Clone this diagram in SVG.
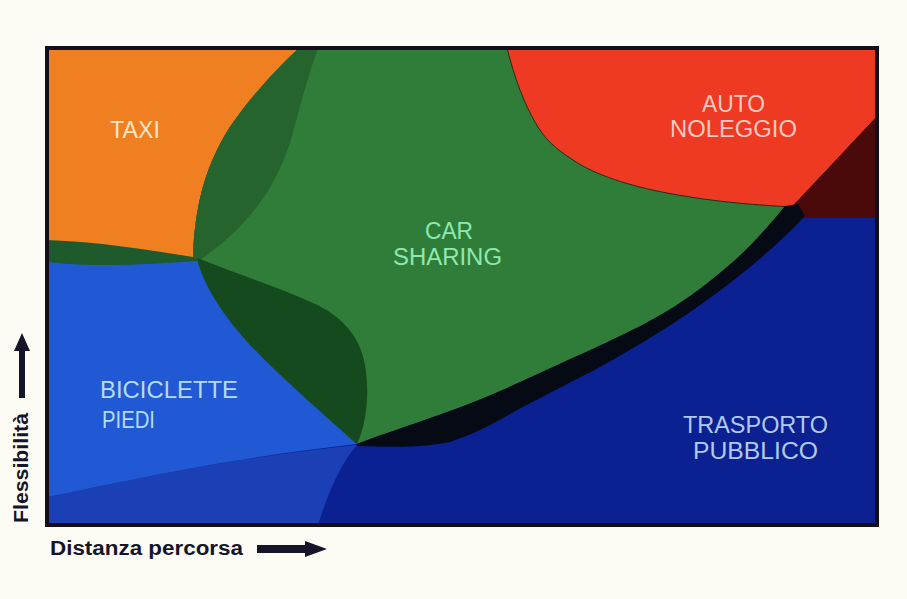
<svg xmlns="http://www.w3.org/2000/svg" width="907" height="599" viewBox="0 0 907 599">
<defs>
<style>
.lbl{font-family:"Liberation Sans",Arial,sans-serif;font-size:23px;}
.ax{font-family:"Liberation Sans",Arial,sans-serif;font-size:20px;font-weight:bold;fill:#16142a;}
</style>
<clipPath id="plot"><rect x="47" y="48" width="830" height="477"/></clipPath>
</defs>
<rect width="907" height="599" fill="#fdfcf4"/>
<g id="plot-area" clip-path="url(#plot)">
<rect id="trasporto-pubblico" x="47" y="48" width="830" height="477" fill="#0b2192"/>
<path id="blue-lower" d="M47,497 C130,480 230,458 357,445 Q335,470 318,525 L47,525 Z" fill="#1b3fb4"/>
<path id="biciclette" d="M197,258 C203,285 225,320 260,355 C290,385 330,420 357,444 C230,458 130,480 47,497 L47,250 L197,250 Z" fill="#2159d4"/>
<path id="band-left" d="M47,236 L197,252 L197,261 C150,264 100,268 47,262 Z" fill="#1e5a2b"/>
<path id="taxi" d="M47,48 L298,48 L298,49 C270,75 240,110 225,135 C205,170 195,205 193,257 C150,250 100,242 47,240 Z" fill="#f07f22"/>
<path id="car-sharing" d="M298,48 L800,48 L800,207 L785,207 C772,222 750,248 727,267 C700,290 680,304 657,317 C625,335 590,350 540,373 C510,387 480,400 450,411 C420,422 380,435 357,444 C330,420 290,385 260,355 C225,320 203,285 197,258 L193,257 C195,205 205,170 225,135 C240,110 270,75 298,49 Z" fill="#2f7d38"/>
<path id="crescent" d="M193,257 C195,205 205,170 225,135 C240,110 270,75 298,49 L318,49 C308,75 302,100 295,125 C285,165 265,215 200,260 Z" fill="#25652d"/>
<path id="lobe" d="M197,258 C203,285 225,320 260,355 C290,385 330,420 357,444 C366,425 370,395 365,365 C360,335 340,315 313,303 C280,288 240,275 200,259 Z" fill="#154a1f"/>
<path id="auto-noleggio" d="M505,48 L877,48 L877,117 L792,207 C760,205 720,203 667,193 C630,186 595,175 573,160 C555,148 545,140 535,122 C525,105 515,80 507,48 Z" fill="#ee3a22" stroke="#2a2a18" stroke-width="1"/>
<path id="maroon" d="M792,207 L877,116 L877,218 L803,218 Z" fill="#4a0a0a"/>
<path id="black-band" d="M785,206 C772,222 750,248 727,267 C700,290 680,304 657,317 C625,335 590,350 540,373 C510,387 480,400 450,411 C420,422 380,435 357,444 L357,446 C390,447 420,448 450,442 C480,432 500,420 517,410 C550,393 575,380 600,367 C640,345 680,320 707,300 C740,276 775,248 805,216 L798,204 Z" fill="#050a14"/>
</g>
<rect id="frame" x="47" y="48" width="830" height="477" fill="none" stroke="#150d1a" stroke-width="4"/>
<g id="labels">
<text class="lbl" x="110" y="138" textLength="50" lengthAdjust="spacingAndGlyphs" fill="#f8e6c4">TAXI</text>
<text class="lbl" x="425" y="239" textLength="48" lengthAdjust="spacingAndGlyphs" fill="#8fe8b0">CAR</text>
<text class="lbl" x="393" y="265" textLength="109" lengthAdjust="spacingAndGlyphs" fill="#8fe8b0">SHARING</text>
<text class="lbl" x="702" y="112" textLength="63" lengthAdjust="spacingAndGlyphs" fill="#f6c9c3">AUTO</text>
<text class="lbl" x="670" y="137" textLength="127" lengthAdjust="spacingAndGlyphs" fill="#f6c9c3">NOLEGGIO</text>
<text class="lbl" x="100" y="398" textLength="138" lengthAdjust="spacingAndGlyphs" fill="#b5dcf5">BICICLETTE</text>
<text class="lbl" x="102" y="428" textLength="53" lengthAdjust="spacingAndGlyphs" fill="#b5dcf5">PIEDI</text>
<text class="lbl" x="683" y="433" textLength="145" lengthAdjust="spacingAndGlyphs" fill="#b2c9ee">TRASPORTO</text>
<text class="lbl" x="693" y="459" textLength="125" lengthAdjust="spacingAndGlyphs" fill="#b2c9ee">PUBBLICO</text>
</g>
<g id="axes">
<text class="ax" transform="translate(28,523) rotate(-90)" x="0" y="0" textLength="110" lengthAdjust="spacingAndGlyphs">Flessibilità</text>
<path id="arrow-up" d="M19,398 L19,351 L14,351 L22,333 L30,351 L25,351 L25,398 Z" fill="#16142a"/>
<text class="ax" x="50" y="555" textLength="193" lengthAdjust="spacingAndGlyphs">Distanza percorsa</text>
<path id="arrow-right" d="M257,545 L305,545 L305,541 L327,549 L305,557 L305,553 L257,553 Z" fill="#16142a"/>
</g>
</svg>
